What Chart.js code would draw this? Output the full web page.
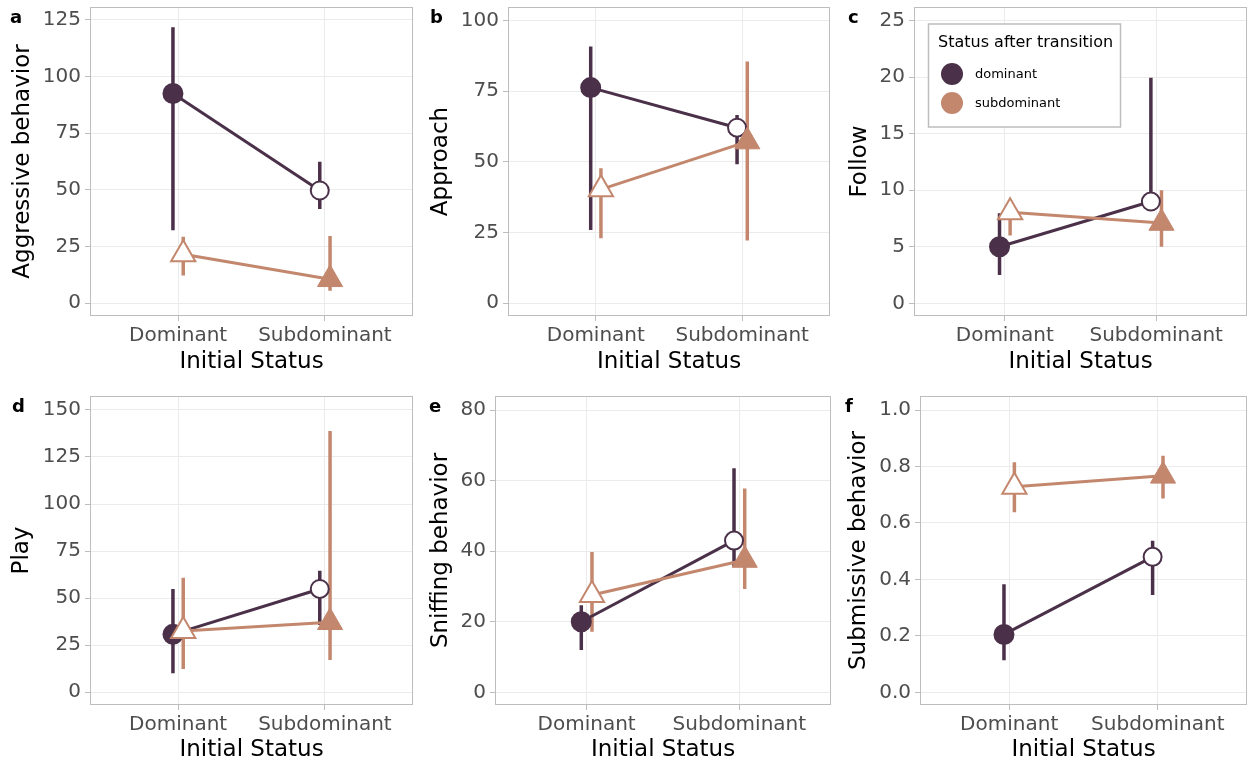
<!DOCTYPE html>
<html>
<head>
<meta charset="utf-8">
<script src="https://cdn.jsdelivr.net/npm/chart.js@4/dist/chart.umd.min.js"></script>
<style>
  html, body { margin: 0; padding: 0; background: #fff; }
  #wrap { position: relative; width: 1248px; height: 765px; overflow: hidden; }
  #wrap canvas { position: absolute; }
</style>
</head>
<body>
<div id="wrap"></div>
<script>
  // data
  const categories = ["Dominant", "Subdominant"];
  const seriesNames = ["dominant", "subdominant"];
  const legendTitle = "Status after transition";
  const xTitle = "Initial Status";
  const panelLetters = ["a", "b", "c", "d", "e", "f"];
  const yTitles = ["Aggressive behavior", "Approach", "Follow", "Play", "Sniffing behavior", "Submissive behavior"];
  const yTicks = [
    [0, 25, 50, 75, 100, 125],
    [0, 25, 50, 75, 100],
    [0, 5, 10, 15, 20, 25],
    [0, 25, 50, 75, 100, 125, 150],
    [0, 20, 40, 60, 80],
    [0, 0.2, 0.4, 0.6, 0.8, 1.0],
  ];
  const yRanges = [[-5.7, 130.7], [-4.5, 104.8], [-1.12, 26.2], [-6.75, 157.4], [-3.6, 84], [-0.045, 1.05]];

  // one row per panel, values for [Dominant, Subdominant]
  const domMean = [[92.5, 49.7], [76.3, 62.1], [5.0, 9.0], [30.8, 54.9], [20.0, 43.0], [0.205, 0.48]];
  const domLow  = [[32.2, 41.5], [25.9, 49.2], [2.5, 8.4], [10.1, 35.8], [12.0, 35.6], [0.114, 0.345]];
  const domHigh = [[121.8, 62.4], [90.8, 66.6], [7.96, 19.95], [54.9, 64.6], [24.7, 63.5], [0.383, 0.537]];
  const subMean = [[21.6, 10.5], [40.3, 57.2], [8.05, 7.1], [32.6, 37.2], [27.6, 37.5], [0.728, 0.767]];
  const subLow  = [[12.2, 5.5], [23.0, 22.2], [6.0, 5.0], [12.4, 17.2], [17.2, 29.3], [0.638, 0.687]];
  const subHigh = [[29.3, 29.6], [47.8, 85.5], [9.1, 10.0], [60.9, 138.8], [39.8, 57.8], [0.815, 0.838]];

  // look
  const DARK = "#4a3048";
  const TAN = "#c3876e";
  const seriesColors = [DARK, TAN];
  const GRID = "#ebebeb";
  const FRAME = "#bdbdbd";
  const FONT = "'DejaVu Sans', sans-serif";
  const DODGE = 0.035;

  // canvas box and plot area (absolute px) for each panel
  const panelLayout = [
    { left: 0,   top: 0,   width: 416, height: 385, area: [90, 7, 413, 316],    yTitleX: 23,   letterX: 10, letterY: 23 },
    { left: 416, top: 0,   width: 416, height: 385, area: [508, 7, 830, 316],   yTitleX: 25,   letterX: 14, letterY: 23 },
    { left: 832, top: 0,   width: 416, height: 385, area: [914, 7, 1247, 316],  yTitleX: 28,   letterX: 16, letterY: 23 },
    { left: 0,   top: 385, width: 416, height: 380, area: [90, 396, 413, 705],  yTitleX: 22.5, letterX: 12, letterY: 26.5 },
    { left: 416, top: 385, width: 416, height: 380, area: [495, 396, 831, 705], yTitleX: 25.5, letterX: 13, letterY: 26.5 },
    { left: 832, top: 385, width: 416, height: 380, area: [920, 396, 1247, 705], yTitleX: 27.5, letterX: 13, letterY: 26.5 },
  ];

  const wrap = document.getElementById("wrap");

  // panel border drawn over the data, like ggplot's panel.border
  const frame = {
    id: "frame",
    afterDatasetsDraw(chart) {
      const { ctx, chartArea: a } = chart;
      ctx.save();
      ctx.strokeStyle = FRAME;
      ctx.lineWidth = 1;
      ctx.strokeRect(a.left + 0.5, a.top + 0.5, a.right - a.left - 1, a.bottom - a.top - 1);
      ctx.restore();
    },
  };

  const letter = {
    id: "letter",
    afterDraw(chart, args, opts) {
      const ctx = chart.ctx;
      ctx.save();
      ctx.fillStyle = "#000";
      ctx.font = "bold 18px " + FONT;
      ctx.textBaseline = "alphabetic";
      ctx.fillText(opts.text, opts.x, opts.y);
      ctx.restore();
    },
  };

  const legendBox = {
    id: "legendBox",
    afterDraw(chart, args, opts) {
      if (!opts.show) return;
      const { ctx, chartArea: a } = chart;
      const x = a.left + 14.5, y = a.top + 17, w = 192, h = 103;
      ctx.save();
      ctx.fillStyle = "#fff";
      ctx.fillRect(x, y, w, h);
      ctx.strokeStyle = FRAME;
      ctx.lineWidth = 1.5;
      ctx.strokeRect(x, y, w, h);
      ctx.fillStyle = "#000";
      ctx.textBaseline = "middle";
      ctx.font = "16px " + FONT;
      ctx.fillText(legendTitle, x + 9.5, y + 19);
      ctx.font = "13px " + FONT;
      seriesNames.forEach((name, k) => {
        const cy = y + 50 + k * 29;
        ctx.beginPath();
        ctx.arc(x + 23.5, cy, 11, 0, Math.PI * 2);
        ctx.fillStyle = seriesColors[k];
        ctx.fill();
        ctx.fillStyle = "#000";
        ctx.fillText(name, x + 46.5, cy + 1);
      });
      ctx.restore();
    },
  };

  function pts(values, shift) {
    return values.map((v, i) => ({ x: i + 1 + shift, y: v }));
  }

  function errPts(lows, highs, shift) {
    const out = [];
    lows.forEach((lo, i) => {
      if (i) out.push({ x: i + 0.5, y: null });
      out.push({ x: i + 1 + shift, y: lo }, { x: i + 1 + shift, y: highs[i] });
    });
    return out;
  }

  function makePanel(i) {
    const L = panelLayout[i];
    const [aL, aT, aR, aB] = L.area;
    const yW = aL - L.left;
    const xH = L.top + L.height - aB;

    const cv = document.createElement("canvas");
    cv.width = L.width;
    cv.height = L.height;
    cv.style.left = L.left + "px";
    cv.style.top = L.top + "px";
    wrap.appendChild(cv);

    const decimals = i === 5 ? 1 : 0;
    const lineBase = { pointRadius: 0, borderCapStyle: "butt", spanGaps: false, fill: false };

    const datasets = [
      { ...lineBase, data: errPts(domLow[i], domHigh[i], -DODGE), borderColor: DARK, borderWidth: 3.5, order: 6 },
      { ...lineBase, data: errPts(subLow[i], subHigh[i], DODGE), borderColor: TAN, borderWidth: 3.5, order: 5 },
      { ...lineBase, data: pts(domMean[i], -DODGE), borderColor: DARK, borderWidth: 3, order: 4 },
      { ...lineBase, data: pts(subMean[i], DODGE), borderColor: TAN, borderWidth: 3, order: 3 },
      {
        data: pts(domMean[i], -DODGE), showLine: false, order: 2,
        pointStyle: ["circle", "circle"],
        pointRadius: [9.5, 9], pointBorderWidth: [2, 2],
        pointBackgroundColor: [DARK, "#ffffff"], pointBorderColor: [DARK, DARK],
      },
      {
        data: pts(subMean[i], DODGE), showLine: false, order: 1,
        pointStyle: ["triangle", "triangle"],
        pointRadius: [14, 14.5], pointBorderWidth: [2, 1],
        pointBackgroundColor: ["#ffffff", TAN], pointBorderColor: [TAN, TAN],
      },
    ];

    new Chart(cv, {
      type: "line",
      data: { datasets },
      options: {
        responsive: false,
        animation: false,
        devicePixelRatio: 1,
        layout: {
          autoPadding: false,
          padding: { top: aT - L.top, right: L.left + L.width - aR, left: 0, bottom: 0 },
        },
        plugins: {
          legend: { display: false },
          tooltip: { enabled: false },
          letter: { text: panelLetters[i], x: L.letterX, y: L.letterY },
          legendBox: { show: i === 2 },
        },
        scales: {
          x: {
            type: "linear",
            min: 0.4,
            max: 2.6,
            afterBuildTicks: s => { s.ticks = categories.map((c, k) => ({ value: k + 1 })); },
            afterFit: s => { s.height = xH; s.paddingLeft = 0; s.paddingRight = 0; },
            grid: { color: GRID, lineWidth: 1, tickColor: FRAME, tickLength: 5 },
            border: { display: false },
            ticks: {
              autoSkip: false, maxRotation: 0, minRotation: 0, padding: 3,
              color: "#4d4d4d", font: { family: FONT, size: 20 },
              callback: v => categories[Math.round(v) - 1] || "",
            },
            title: {
              display: true, text: xTitle, color: "#000",
              font: { family: FONT, size: 23 },
              padding: { top: 0, bottom: (L.top + L.height) - (i < 3 ? 362.5 : 750.5) - 13.8 },
            },
          },
          y: {
            type: "linear",
            min: yRanges[i][0],
            max: yRanges[i][1],
            afterBuildTicks: s => { s.ticks = yTicks[i].map(v => ({ value: v })); },
            afterFit: s => { s.width = yW; s.paddingTop = 0; s.paddingBottom = 0; },
            grid: { color: GRID, lineWidth: 1, tickColor: FRAME, tickLength: 5 },
            border: { display: false },
            ticks: {
              padding: 4, color: "#4d4d4d", font: { family: FONT, size: 20 },
              callback: v => Number(v).toFixed(decimals),
            },
            title: {
              display: true, text: yTitles[i], color: "#000",
              font: { family: FONT, size: 23 },
              padding: { top: L.yTitleX - 13.8, bottom: 0 },
            },
          },
        },
      },
      plugins: [frame, letter, legendBox],
    });
  }

  panelLayout.forEach((_, i) => makePanel(i));
</script>
</body>
</html>
